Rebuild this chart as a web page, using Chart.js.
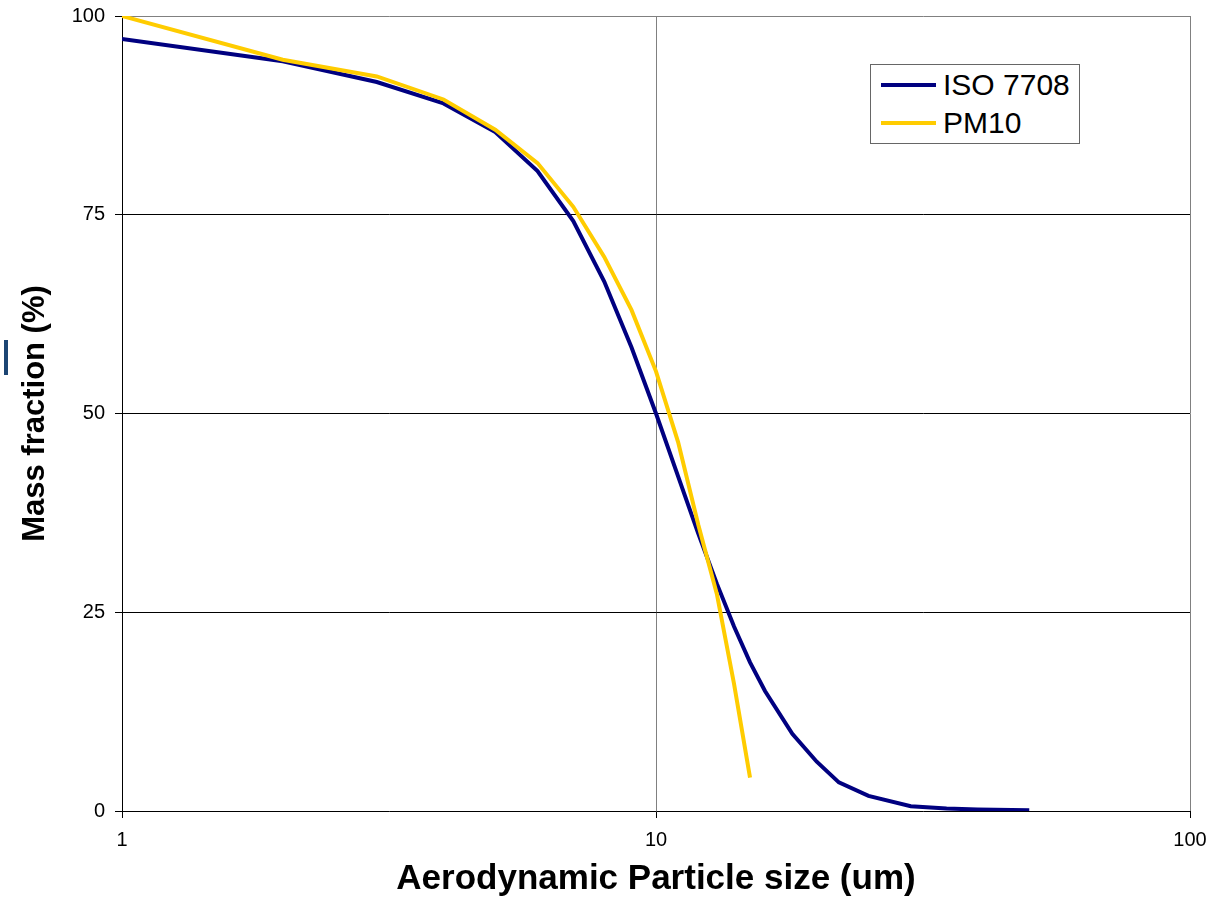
<!DOCTYPE html>
<html>
<head>
<meta charset="utf-8">
<script src="https://cdn.jsdelivr.net/npm/chart.js@4.4.1/dist/chart.umd.min.js"></script>
<style>
  html, body { margin: 0; padding: 0; background: #fff; }
  #wrap { position: relative; width: 1217px; height: 900px; }
  #legend {
    position: absolute; left: 870px; top: 64px; width: 208px; height: 78px;
    border: 1px solid #666; background: #fff;
    font-family: "Liberation Sans", Arial, sans-serif; font-size: 30px; color: #000;
  }
  #legend .item { position: absolute; left: 10px; height: 34px; line-height: 34px; white-space: nowrap; }
  #legend .swatch { display: inline-block; width: 55px; height: 4px; vertical-align: middle; margin-right: 7px; position: relative; top: -2px; }
  #stray { position: absolute; left: 4px; top: 340px; width: 4px; height: 35px; background: #1c4573; }
</style>
</head>
<body>
<div id="wrap">
  <canvas id="c" width="1217" height="900"></canvas>
  <div id="legend"></div>
  <div id="stray"></div>
</div>
<script>
/* ---- data ---- */
const isoSizes  = [1, 2, 3, 4, 5, 6, 7, 8, 9, 10, 11, 12, 13, 14, 15, 16, 18, 20, 22, 25, 30, 35, 40, 50];
const isoValues = [97.1, 94.3, 91.7, 89.0, 85.4, 80.5, 74.2, 66.6, 58.3, 50.0, 42.1, 34.9, 28.6, 23.2, 18.7, 15.1, 9.7, 6.2, 3.6, 1.9, 0.6, 0.3, 0.2, 0.1];

const pm10Sizes  = [1, 2, 3, 4, 5, 6, 7, 8, 9, 10, 11, 12, 13, 14, 15];
const pm10Values = [100, 94.5, 92.4, 89.5, 85.7, 81.5, 76.0, 69.7, 63.0, 55.3, 46.4, 36.0, 27.3, 16.0, 4.2];

const xTicks = [1, 10, 100];
const yTicks = [0, 25, 50, 75, 100];

const FONT = '"Liberation Sans", Arial, sans-serif';

function pairs(xs, ys){
  return xs.map((x, i) => ({ x: x, y: ys[i] }));
}

const chart = new Chart(document.getElementById('c').getContext('2d'), {
  type: 'line',
  data: {
    datasets: [
      { label: 'ISO 7708', data: pairs(isoSizes, isoValues), borderColor: '#000080', borderWidth: 4, pointRadius: 0, tension: 0, order: 1 },
      { label: 'PM10', data: pairs(pm10Sizes, pm10Values), borderColor: '#FFCC00', borderWidth: 4, pointRadius: 0, tension: 0, order: 0 }
    ]
  },
  options: {
    responsive: false,
    devicePixelRatio: 1,
    animation: false,
    layout: { padding: { left: 0, right: 27, top: 16, bottom: 0 } },
    plugins: { legend: { display: false }, tooltip: { enabled: false } },
    scales: {
      x: {
        type: 'logarithmic',
        min: 1, max: 100,
        afterBuildTicks: s => { s.ticks = xTicks.map(v => ({ value: v })); },
        afterFit: s => { s.height = 89; },
        ticks: { color: '#000', font: { family: FONT, size: 20 }, padding: 10, maxRotation: 0, callback: v => String(v) },
        grid: {
          color: ctx => ctx.tick && ctx.tick.value === 1 ? 'rgba(0,0,0,0)' : '#808080',
          tickColor: '#000', tickLength: 7, lineWidth: 1
        },
        border: { color: '#000', width: 1 },
        title: { display: true, text: 'Aerodynamic Particle size (um)', color: '#000', font: { family: FONT, size: 35, weight: 'bold' }, padding: { top: 0, bottom: 0 } }
      },
      y: {
        min: 0, max: 100,
        afterBuildTicks: s => { s.ticks = yTicks.map(v => ({ value: v })); },
        afterFit: s => { s.width = 122; s.paddingTop = 0; s.paddingBottom = 0; },
        ticks: { color: '#000', font: { family: FONT, size: 20 }, padding: 10 },
        grid: {
          color: ctx => ctx.tick && ctx.tick.value === 100 ? '#808080' : (ctx.tick && ctx.tick.value === 0 ? 'rgba(0,0,0,0)' : '#000'),
          tickColor: '#000', tickLength: 7, lineWidth: 1
        },
        border: { color: '#000', width: 1 },
        title: { display: true, text: 'Mass fraction (%)', color: '#000', font: { family: FONT, size: 31, weight: 'bold' }, padding: { top: 17, bottom: 0 } }
      }
    }
  }
});

/* legend box built from the datasets */
const legend = document.getElementById('legend');
chart.data.datasets.forEach((ds, i) => {
  const item = document.createElement('div');
  item.className = 'item';
  item.style.top = (3 + i * 38) + 'px';
  item.innerHTML = `<span class="swatch" style="background:${ds.borderColor}"></span>${ds.label}`;
  legend.appendChild(item);
});
</script>
</body>
</html>
